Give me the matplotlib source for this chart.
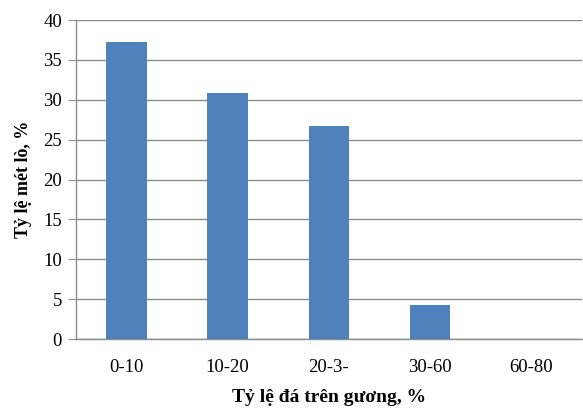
import matplotlib
matplotlib.use("Agg")
import matplotlib.pyplot as plt

categories = ["0-10", "10-20", "20-3-", "30-60", "60-80"]
values = [37.2, 30.9, 26.7, 4.3, 0.0]
yticks = [0, 5, 10, 15, 20, 25, 30, 35, 40]

plt.rcParams['font.family'] = ['Liberation Serif', 'DejaVu Serif']

fig = plt.figure(figsize=(5.83, 4.09), dpi=100)
ax = fig.add_axes([0.130, 0.171, 0.868, 0.780])

x = list(range(len(categories)))
ax.bar(x, values, width=0.4, color="#4F81BD", zorder=3)
ax.set_xlim(-0.5, len(categories) - 0.5)
ax.set_ylim(0, 40)
ax.set_yticks(yticks)
ax.set_xticks(x)
ax.set_xticklabels(categories)
ax.yaxis.grid(True, color="#8c8c8c", linewidth=1.0, zorder=0)
for s in ["top", "right"]:
    ax.spines[s].set_visible(False)
for s in ["left", "bottom"]:
    ax.spines[s].set_color("#8c8c8c")
    ax.spines[s].set_linewidth(1.0)
ax.tick_params(axis="y", length=6, color="#8c8c8c", labelsize=13.5, pad=4)
ax.tick_params(axis="x", length=0, labelsize=13.5, pad=14)
ax.set_ylabel("Tỷ lệ mét lò, %", fontsize=13, fontweight="bold", labelpad=8)
ax.set_xlabel("Tỷ lệ đá trên gương, %", fontsize=14, fontweight="bold", labelpad=10)

fig.savefig("out.png", dpi=100)
